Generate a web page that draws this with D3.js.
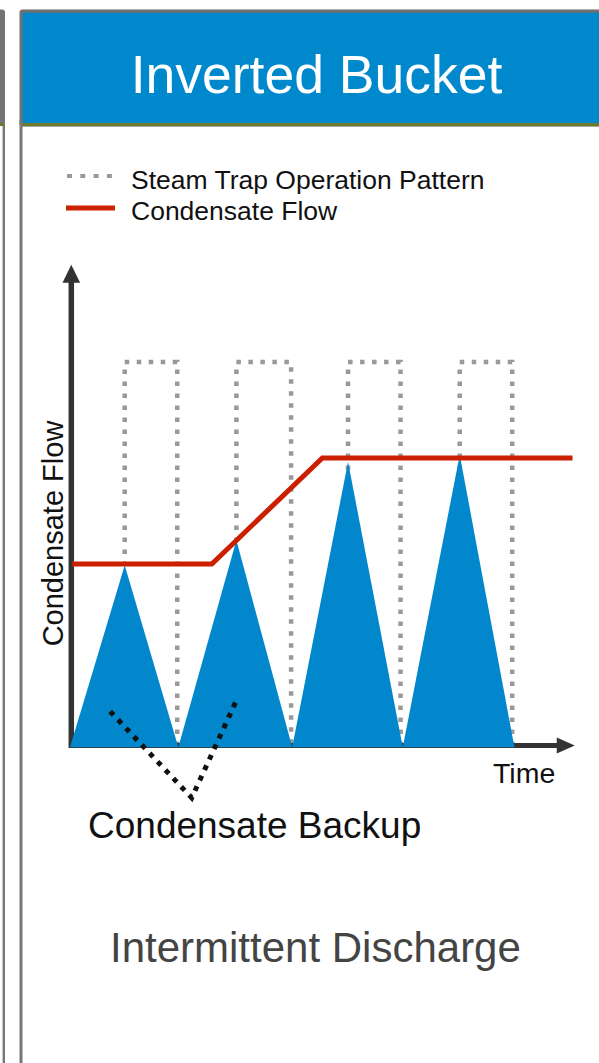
<!DOCTYPE html>
<html><head><meta charset="utf-8">
<script src="https://cdn.jsdelivr.net/npm/d3@7"></script>
<style>html,body{margin:0;padding:0;background:#fff;}svg{display:block;}
text{font-family:"Liberation Sans", Arial, Helvetica, sans-serif;}</style>
</head><body>
<script>
// ---- data ----
const title = "Inverted Bucket";
const legendLabels = ["Steam Trap Operation Pattern", "Condensate Flow"];
const xLabel = "Time";
const yLabel = "Condensate Flow";
const annotation = "Condensate Backup";
const footer = "Intermittent Discharge";
// trap open pulses [start, end] in time units, height in flow units
const pulseStart = [0.49, 1.49, 2.49, 3.49];
const pulseEnd = [0.96, 1.98, 2.96, 3.96];
const pulseHeight = 100;
// discharge triangles: base start, apex time, base end, apex flow
const triStart = [0.0, 0.97, 1.99, 2.98];
const triApex = [0.49, 1.49, 2.49, 3.49];
const triEnd = [0.97, 1.99, 2.98, 3.98];
const triPeak = [47.1, 53.6, 74.0, 75.8];
// condensate flow line
const flowT = [0.02, 1.27, 2.26, 4.5];
const flowV = [47.4, 47.4, 75.0, 75.0];
// backup indicator (dotted V)
const backupT = [0.36, 1.09, 1.5];
const backupV = [9.0, -13.5, 12.5];
const axisMaxT = 4.52, axisMaxV = 125.3;

const W = 599, H = 1063;
const svg = d3.select("body").append("svg").attr("width", W).attr("height", H);
const x = d3.scaleLinear().domain([0, 1]).range([70, 181.67]);
const y = d3.scaleLinear().domain([0, 100]).range([746, 362]);

// ---- panels ----
svg.append("rect").attr("x", -4).attr("y", 9.5).attr("width", 9).attr("height", 115).attr("rx", 3).attr("fill", "#737373");
svg.append("line").attr("x1", 3.8).attr("x2", 3.8).attr("y1", 120).attr("y2", H).attr("stroke", "#777").attr("stroke-width", 2.4);
svg.append("rect").attr("x", 0).attr("y", 123).attr("width", 4).attr("height", 3).attr("fill", "#6b7a2c");
svg.append("rect").attr("x", 19.5).attr("y", 9.5).attr("width", 600).attr("height", 117).attr("rx", 3).attr("fill", "#707070");
svg.append("rect").attr("x", 22.7).attr("y", 12.7).attr("width", 590).attr("height", 110.5).attr("fill", "#0088cd");
svg.append("rect").attr("x", 22.7).attr("y", 123).attr("width", 590).attr("height", 3.2).attr("fill", "#6b7a2c");
svg.append("line").attr("x1", 21).attr("x2", 21).attr("y1", 120).attr("y2", H).attr("stroke", "#777").attr("stroke-width", 3);

svg.append("text").attr("x", 316.5).attr("y", 93).attr("text-anchor", "middle")
  .attr("font-size", 53.5).attr("fill", "#fff").text(title);

// ---- legend ----
svg.append("line").attr("x1", 67).attr("x2", 116).attr("y1", 176).attr("y2", 176)
  .attr("stroke", "#999").attr("stroke-width", 4).attr("stroke-dasharray", "5,8.3");
svg.append("line").attr("x1", 66).attr("x2", 115).attr("y1", 208).attr("y2", 208)
  .attr("stroke", "#cc2200").attr("stroke-width", 5);
svg.selectAll("text.leg").data(legendLabels).join("text").attr("class", "leg")
  .attr("x", 131).attr("y", (d, i) => 188.5 + i * 31.5)
  .attr("font-size", 26.5).attr("fill", "#111").text(d => d);

// ---- pulses (square wave) ----
const line = d3.line().x(d => x(d[0])).y(d => y(d[1]));
svg.selectAll("path.pulse").data(pulseStart.map((s, i) => [s, pulseEnd[i]])).join("path")
  .attr("class", "pulse")
  .attr("d", d => line([[d[0], 0], [d[0], pulseHeight], [d[1], pulseHeight], [d[1], 0]]))
  .attr("fill", "none").attr("stroke", "#999").attr("stroke-width", 4.5)
  .attr("stroke-dasharray", "4.5,7.5");

// ---- axes ----
const axisCol = "#333";
svg.append("line").attr("x1", x(0)).attr("x2", x(axisMaxT) - 16).attr("y1", y(0) - 0.5).attr("y2", y(0) - 0.5)
  .attr("stroke", axisCol).attr("stroke-width", 5);
svg.append("path").attr("d", `M${x(axisMaxT)},${y(0) - 0.5} L${x(axisMaxT) - 18},${y(0) - 8.5} L${x(axisMaxT) - 18},${y(0) + 7.5} Z`).attr("fill", axisCol);
svg.append("line").attr("x1", 71.3).attr("x2", 71.3).attr("y1", y(0) + 2).attr("y2", y(axisMaxV) + 16)
  .attr("stroke", axisCol).attr("stroke-width", 5.5);
svg.append("path").attr("d", `M71.3,${y(axisMaxV)} L62.5,${y(axisMaxV) + 18} L80.1,${y(axisMaxV) + 18} Z`).attr("fill", axisCol);

// ---- triangles ----
svg.selectAll("path.tri").data(triStart.map((s, i) => i)).join("path").attr("class", "tri")
  .attr("d", i => line([[triStart[i], -0.3], [triApex[i], triPeak[i]], [triEnd[i], -0.3]]) + "Z")
  .attr("fill", "#0287cc");

// ---- flow line ----
svg.append("path").attr("d", line(flowT.map((t, i) => [t, flowV[i]])))
  .attr("fill", "none").attr("stroke", "#cc1f00").attr("stroke-width", 5);

// ---- backup dotted V ----
svg.append("path").attr("d", line(backupT.map((t, i) => [t, backupV[i]])))
  .attr("fill", "none").attr("stroke", "#111").attr("stroke-width", 5)
  .attr("stroke-dasharray", "5,6.5");

// ---- labels ----
svg.append("text").attr("x", 493).attr("y", 783)
  .attr("font-size", 28.5).attr("fill", "#111").text(xLabel);
svg.append("text").attr("transform", "translate(63,533.5) rotate(-90)").attr("text-anchor", "middle")
  .attr("font-size", 29).attr("fill", "#111").text(yLabel);
svg.append("text").attr("x", 88).attr("y", 838)
  .attr("font-size", 37).attr("fill", "#111").text(annotation);
svg.append("text").attr("x", 110).attr("y", 962)
  .attr("font-size", 42).attr("fill", "#444").text(footer);
</script>
</body></html>
